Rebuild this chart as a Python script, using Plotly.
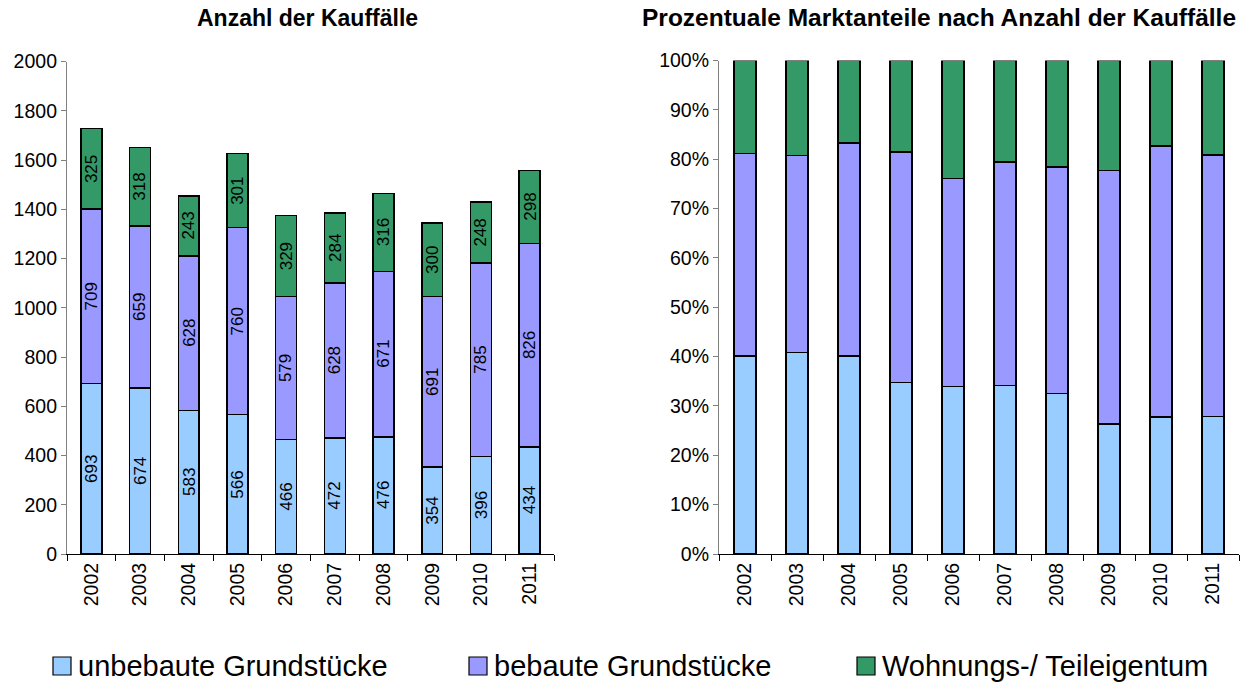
import plotly.graph_objects as go

years = ["2002", "2003", "2004", "2005", "2006", "2007", "2008", "2009", "2010", "2011"]
unbebaut = [693, 674, 583, 566, 466, 472, 476, 354, 396, 434]
bebaut = [709, 659, 628, 760, 579, 628, 671, 691, 785, 826]
wohnung = [325, 318, 243, 301, 329, 284, 316, 300, 248, 298]

names = ["unbebaute Grundstücke", "bebaute Grundstücke", "Wohnungs-/ Teileigentum"]
colors = ["#99CCFF", "#9999FF", "#339966"]
series = [unbebaut, bebaut, wohnung]

totals = [a + b + c for a, b, c in zip(unbebaut, bebaut, wohnung)]
shares = [[v / t * 100 for v, t in zip(s, totals)] for s in series]

# page body has an 8px margin: build the figure so it fills the window from (8, 8)
OFF = 8
W, H = 1250 - OFF, 682 - OFF
FONT = "Liberation Sans, Arial, sans-serif"


def px(x):
    return (x - OFF) / W


def py(y):
    return (H - (y - OFF)) / H


fig = go.Figure()
for s, name, col in zip(series, names, colors):
    fig.add_trace(go.Bar(
        x=years, y=s, name=name, marker=dict(color=col, line=dict(color="#000000", width=1.5)),
        xaxis="x", yaxis="y", width=0.43, showlegend=False,
    ))
for s, name, col in zip(shares, names, colors):
    fig.add_trace(go.Bar(
        x=years, y=s, name=name, marker=dict(color=col, line=dict(color="#000000", width=1.5)),
        xaxis="x2", yaxis="y2", width=0.43, showlegend=False,
    ))

annotations = []
# data labels (rotated) at the middle of each stacked segment; x given as category index
base = [0] * len(years)
for s in series:
    for i, v in enumerate(s):
        annotations.append(dict(x=i, y=base[i] + v / 2, xref="x", yref="y", text=str(v),
                                textangle=-90, showarrow=False, xanchor="center", yanchor="middle",
                                font=dict(size=17, family=FONT, color="#000000")))
        base[i] += v

annotations += [
    dict(text="<b>Anzahl der Kauffälle</b>", x=px(307), y=py(18), xref="paper", yref="paper",
         xanchor="center", yanchor="middle",
         showarrow=False, font=dict(size=23, family=FONT, color="#000000")),
    dict(text="<b>Prozentuale Marktanteile nach Anzahl der Kauffälle</b>", x=px(939), y=py(18),
         xref="paper", yref="paper", xanchor="center", yanchor="middle",
         showarrow=False, font=dict(size=24.5, family=FONT, color="#000000")),
]

# manual legend
leg_x = [53, 469, 857]
shapes = []
for lx, name, col in zip(leg_x, names, colors):
    shapes.append(dict(type="rect", xref="paper", yref="paper",
                       x0=px(lx), x1=px(lx + 18), y0=py(675), y1=py(657),
                       fillcolor=col, line=dict(color="#000000", width=1.2)))
    annotations.append(dict(text=name, x=px(lx + 23), y=py(666), xref="paper", yref="paper",
                            xanchor="left", yanchor="middle", showarrow=False,
                            font=dict(size=29, family=FONT, color="#000000")))

axis_common = dict(showgrid=False, zeroline=False, ticks="outside", automargin=False,
                   tickfont=dict(size=19.5, family=FONT, color="#000000"), showline=True)

fig.update_layout(
    width=W, height=H, barmode="stack",
    plot_bgcolor="white", paper_bgcolor="white",
    margin=dict(l=0, r=0, t=0, b=0, autoexpand=False),
    font=dict(family=FONT, color="#000000"),
    showlegend=False,
    xaxis=dict(domain=[px(67), px(554)], anchor="y", type="category", tickangle=-90,
               linecolor="#000000", tickson="boundaries", tickcolor="#000000", ticklen=6,
               linewidth=1.2, **axis_common),
    yaxis=dict(domain=[py(554), py(61.5)], anchor="x", range=[0, 2000], dtick=200,
               linecolor="#808080", tickcolor="#808080", ticklen=5, linewidth=1.2, **axis_common),
    xaxis2=dict(domain=[px(719), px(1239)], anchor="y2", type="category", tickangle=-90,
                linecolor="#000000", tickson="boundaries", tickcolor="#000000", ticklen=6,
                linewidth=1.2, **axis_common),
    yaxis2=dict(domain=[py(554), py(60.5)], anchor="x2", range=[0, 100], dtick=10,
                ticksuffix="%", linecolor="#808080", tickcolor="#808080", ticklen=5, linewidth=1.2,
                **axis_common),
    annotations=annotations,
    shapes=shapes,
)

fig.write_html("out.html")
